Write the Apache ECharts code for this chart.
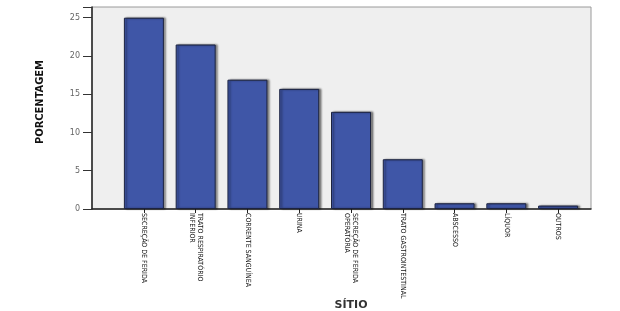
<!DOCTYPE html>
<html>
<head>
<meta charset="utf-8">
<script src="https://cdn.jsdelivr.net/npm/echarts@6/dist/echarts.min.js"></script>
<style>html,body{margin:0;padding:0;background:#fff}#c{width:620px;height:311px}</style>
</head>
<body>
<div id="c"></div>
<script>
const categories = ['SECREÇÃO DE FERIDA', 'TRATO RESPIRATÓRIO\nINFERIOR', 'CORRENTE SANGUÍNEA', 'URINA', 'SECREÇÃO DE FERIDA\nOPERATÓRIA', 'TRATO GASTROINTESTINAL', 'ABSCESSO', 'LÍQUOR', 'OUTROS'];
const values = [25.0, 21.5, 16.9, 15.7, 12.7, 6.5, 0.75, 0.75, 0.45];
const yTicks = [0, 5, 10, 15, 20, 25];
const yTitle = 'PORCENTAGEM';
const xTitle = 'SÍTIO';

const yMax = 26.4;
const narrow = 'Liberation Sans Narrow, DejaVu Sans Condensed, Arial Narrow, sans-serif';
const chart = echarts.init(document.getElementById('c'), null, {renderer: 'canvas'});
chart.setOption({
  animation: false,
  grid: [
    {left: 92, right: 29, top: 7, bottom: 102, show: true, backgroundColor: '#efefef', borderColor: '#9a9a9a', borderWidth: 1, containLabel: false, outerBoundsMode: 'none'},
    {left: 118, right: 36, top: 7, bottom: 102, containLabel: false, outerBoundsMode: 'none'}
  ],
  xAxis: [
    {gridIndex: 0, type: 'value', min: 0, max: 1, axisLine: {show: true, onZero: false, lineStyle: {color: '#222', width: 1.5}}, axisTick: {show: false}, axisLabel: {show: false}, splitLine: {show: false}},
    {gridIndex: 1, type: 'category', data: categories, boundaryGap: true,
      axisLine: {show: false}, axisTick: {show: true, alignWithLabel: true, length: 4, lineStyle: {color: '#222'}},
      axisLabel: {interval: 0, rotate: -90, margin: 4, fontFamily: narrow, fontSize: 7, color: '#111', lineHeight: 7.5, align: 'left', verticalAlign: 'middle'},
      name: xTitle, nameLocation: 'middle', nameGap: 91, nameMoveOverlap: false,
      nameTextStyle: {fontFamily: 'DejaVu Sans, sans-serif', fontWeight: 'bold', fontSize: 11, color: '#333'}
    }
  ],
  yAxis: [
    {gridIndex: 0, type: 'value', min: 0, max: yMax, interval: 5,
      axisLine: {show: true, lineStyle: {color: '#222', width: 1.5}},
      axisTick: {show: true, length: 9, lineStyle: {color: '#333'}},
      axisLabel: {margin: 12, fontFamily: 'DejaVu Sans, sans-serif', fontSize: 8, color: '#666',
        formatter: v => yTicks.includes(v) ? String(v) : ''},
      splitLine: {show: false},
      name: yTitle, nameLocation: 'middle', nameGap: 46, nameRotate: 90, nameMoveOverlap: false,
      nameTextStyle: {fontFamily: narrow, fontWeight: 'bold', fontSize: 11, color: '#111', padding: [0, 0, 0, 12]}
    },
    {gridIndex: 1, type: 'value', min: 0, max: yMax, show: false, splitLine: {show: false}}
  ],
  series: [{
    type: 'bar', xAxisIndex: 1, yAxisIndex: 1, data: values, barWidth: 40,
    itemStyle: {color: '#3f56a7', borderColor: '#1c2340', borderWidth: 1, shadowColor: 'rgba(0,0,0,0.45)', shadowOffsetX: 2, shadowOffsetY: 0, shadowBlur: 2}
  }]
});
</script>
</body>
</html>
